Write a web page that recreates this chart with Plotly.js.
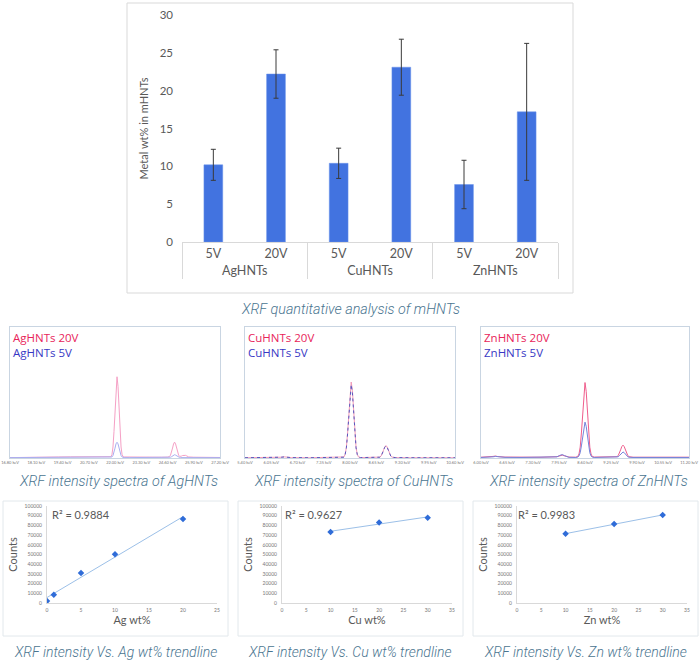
<!DOCTYPE html>
<html>
<head>
<meta charset="utf-8">
<script src="https://cdn.plot.ly/plotly-3.0.1.min.js"></script>
<style>html,body{margin:0;padding:0;background:#fff;}#chart{width:700px;height:661px;}</style>
</head>
<body>
<div id="chart"></div>
<script>
// ---------- DATA ----------
// Top bar chart
const barGroups   = ['AgHNTs','AgHNTs','CuHNTs','CuHNTs','ZnHNTs','ZnHNTs'];
const barVoltages = ['5V','20V','5V','20V','5V','20V'];
const barValues   = [10.2, 22.2, 10.4, 23.1, 7.6, 17.2];
const barErrors   = [2.05, 3.2, 2.0, 3.7, 3.2, 9.05];
const barYTicks   = [0, 5, 10, 15, 20, 25, 30];

// Spectra: Ag
const agEnergy = [16.8,17.4,18.0,18.6,19.2,19.8,20.4,21.0,21.5,21.75,21.8,21.85,21.9,21.95,22.0,22.05,22.1,22.15,22.2,22.25,22.3,22.35,22.4,22.45,22.7,23.2,23.8,24.3,24.6,24.65,24.7,24.75,24.8,24.85,24.9,24.95,25.0,25.05,25.1,25.15,25.2,25.25,25.3,25.35,25.4,25.45,25.5,25.55,25.6,25.65,25.9,26.5,27.2];
const ag20V = [0.3,0.3,0.4,0.5,0.8,0.9,0.8,0.7,0.8,0.8,1.0,2.7,8.4,20.2,37.6,54.7,62.0,54.7,37.6,20.2,8.4,2.7,1.0,0.8,0.7,0.6,0.6,0.6,0.7,0.8,1.1,2.2,4.3,7.6,10.7,12.1,10.7,7.6,4.3,2.2,1.2,1.2,1.5,1.9,2.1,2.2,2.0,1.6,1.1,0.8,0.6,0.5,0.4];
const ag5V  = [0.3,0.3,0.3,0.3,0.3,0.3,0.3,0.3,0.3,0.4,0.4,0.8,1.9,4.2,7.5,10.8,12.0,10.8,7.5,4.2,1.9,0.8,0.4,0.3,0.3,0.3,0.3,0.3,0.3,0.3,0.4,0.6,1.0,1.6,2.2,2.5,2.2,1.6,1.0,0.6,0.4,0.3,0.3,0.4,0.5,0.5,0.5,0.4,0.3,0.3,0.3,0.3,0.3];
const agTickVals = [16.8,18.1,19.4,20.7,22.0,23.3,24.6,25.9,27.2];
const agTickText = ['16.80 keV','18.10 keV','19.40 keV','20.70 keV','22.00 keV','23.30 keV','24.60 keV','25.90 keV','27.20 keV'];

// Spectra: Cu
const cuEnergy = [5.40,5.8,6.2,6.30,6.37,6.44,6.55,7.0,7.5,7.80,7.85,7.88,7.91,7.94,7.97,8.00,8.03,8.06,8.09,8.12,8.15,8.18,8.21,8.26,8.5,8.65,8.71,8.74,8.77,8.80,8.83,8.86,8.89,8.92,8.95,8.98,9.01,9.04,9.07,9.13,9.5,10.0,10.6];
const cu20V = [0.2,0.2,0.3,0.6,0.9,0.6,0.3,0.2,0.3,0.3,0.8,2.8,8.0,19.1,35.4,51.4,58.0,51.4,35.4,19.1,8.0,2.8,0.8,0.3,0.3,0.4,0.4,0.7,1.5,3.3,5.9,8.4,9.5,8.4,5.9,3.3,1.5,0.7,0.4,0.3,0.2,0.2,0.2];
const cu5V  = [0.2,0.2,0.3,0.6,0.8,0.6,0.3,0.2,0.3,0.3,0.6,2.7,7.7,18.4,34.2,49.6,56.0,49.6,34.2,18.4,7.7,2.7,0.8,0.3,0.3,0.4,0.4,0.6,1.4,3.2,5.7,8.2,9.2,8.2,5.7,3.2,1.4,0.6,0.4,0.3,0.2,0.2,0.2];
const cuTickVals = [5.40,6.05,6.70,7.35,8.00,8.65,9.30,9.95,10.60];
const cuTickText = ['5.40 keV','6.05 keV','6.70 keV','7.35 keV','8.00 keV','8.65 keV','9.30 keV','9.95 keV','10.60 keV'];

// Spectra: Zn
const znEnergy = [6.00,6.2,6.30,6.36,6.42,6.6,7.0,7.5,7.9,7.97,8.03,8.09,8.2,8.37,8.42,8.45,8.48,8.51,8.54,8.57,8.60,8.63,8.66,8.69,8.72,8.75,8.78,8.83,9.1,9.37,9.40,9.43,9.46,9.49,9.52,9.55,9.58,9.61,9.64,9.67,9.70,9.73,9.8,10.2,10.6,11.2];
const zn20V = [0.6,0.7,1.2,1.5,1.1,0.7,0.6,0.6,1.0,1.8,2.2,1.6,0.7,0.6,1.2,3.1,8.3,19.1,35.2,50.9,57.6,50.9,35.2,19.1,8.3,3.1,1.2,0.7,0.6,0.7,1.0,1.8,3.6,6.2,8.7,9.8,8.7,6.2,3.6,1.8,1.0,0.7,0.6,0.6,0.6,0.6];
const zn5V  = [0.4,0.5,0.9,1.2,0.9,0.5,0.4,0.4,0.9,2.0,2.6,1.8,0.5,0.4,0.7,1.6,4.0,9.2,16.8,24.2,27.4,24.2,16.8,9.2,4.0,1.6,0.7,0.4,0.4,0.4,0.6,0.9,1.8,2.9,4.1,4.6,4.1,2.9,1.8,0.9,0.6,0.4,0.4,0.4,0.4,0.4];
const znTickVals = [6.00,6.65,7.30,7.95,8.60,9.25,9.90,10.55,11.20];
const znTickText = ['6.00 keV','6.65 keV','7.30 keV','7.95 keV','8.60 keV','9.25 keV','9.90 keV','10.55 keV','11.20 keV'];

// Trendlines
const agWt = [0, 1, 5, 10, 20];
const agCounts = [2000, 8600, 31000, 50300, 86500];
const cuWt = [10, 20, 30];
const cuCounts = [73100, 83100, 87900];
const znWt = [10, 20, 30];
const znCounts = [71400, 81400, 90700];
const r2Labels = ['R\u00b2 = 0.9884', 'R\u00b2 = 0.9627', 'R\u00b2 = 0.9983'];

// Text
const spectraLegends = [['AgHNTs 20V','AgHNTs 5V'],['CuHNTs 20V','CuHNTs 5V'],['ZnHNTs 20V','ZnHNTs 5V']];
const captions = {
  top: 'XRF quantitative analysis of mHNTs',
  spectra: ['XRF intensity spectra of AgHNTs','XRF intensity spectra of CuHNTs','XRF intensity spectra of ZnHNTs'],
  trend: ['XRF intensity Vs. Ag wt% trendline','XRF intensity Vs. Cu wt% trendline','XRF intensity Vs. Zn wt% trendline']
};
const trendXTitles = ['Ag wt%','Cu wt%','Zn wt%'];

// ---------- HELPERS ----------
const W = 700, H = 661;
const px = v => v / W;
const py = v => 1 - v / H;
function fitLine(xs, ys) {
  const n = xs.length;
  const mx = xs.reduce((a,b)=>a+b,0)/n, my = ys.reduce((a,b)=>a+b,0)/n;
  let sxy = 0, sxx = 0;
  for (let i=0;i<n;i++){ sxy += (xs[i]-mx)*(ys[i]-my); sxx += (xs[i]-mx)**2; }
  const m = sxy/sxx, b = my - m*mx;
  const x0 = Math.min(...xs), x1 = Math.max(...xs);
  return {x:[x0,x1], y:[m*x0+b, m*x1+b]};
}

const gray = '#595959';
const capFont = {family:'Roboto, sans-serif', size:14.3, color:'#4a7590', style:'italic', weight:300};
const traces = [];

// Top bars
traces.push({
  type:'bar', x:[barGroups, barVoltages], y:barValues,
  marker:{color:'#4273e0', line:{color:'#6a93ea', width:0.5}},
  error_y:{type:'data', array:barErrors, visible:true, color:'#3a3a3a', thickness:1, width:2.5},
  xaxis:'x', yaxis:'y', showlegend:false, hoverinfo:'skip'
});

// Spectra
const spec = [
  {e:agEnergy, a:ag20V, b:ag5V, pc:'#f5a0c5', bc:'#a9aef0', bd:'solid'},
  {e:cuEnergy, a:cu20V, b:cu5V, pc:'#f29ab8', bc:'#5558c0', bd:'dot'},
  {e:znEnergy, a:zn20V, b:zn5V, pc:'#ef5d8c', bc:'#7583da', bd:'solid'}
];
spec.forEach((s,i)=>{
  const n = i+2;
  traces.push({type:'scatter', mode:'lines', x:s.e, y:s.a, line:{color:s.pc, width:1}, xaxis:'x'+n, yaxis:'y'+n, showlegend:false, hoverinfo:'skip'});
  traces.push({type:'scatter', mode:'lines', x:s.e, y:s.b, line:{color:s.bc, width:1, dash:s.bd}, xaxis:'x'+n, yaxis:'y'+n, showlegend:false, hoverinfo:'skip'});
});

// Trendlines
const tr = [[agWt,agCounts],[cuWt,cuCounts],[znWt,znCounts]];
tr.forEach((d,i)=>{
  const n = i+5;
  const f = fitLine(d[0], d[1]);
  traces.push({type:'scatter', mode:'lines', x:f.x, y:f.y, line:{color:'#9cc0e8', width:1}, xaxis:'x'+n, yaxis:'y'+n, showlegend:false, hoverinfo:'skip'});
  traces.push({type:'scatter', mode:'markers', x:d[0], y:d[1], marker:{color:'#2f6cd8', size:5, symbol:'diamond'}, xaxis:'x'+n, yaxis:'y'+n, showlegend:false, hoverinfo:'skip'});
});

const layout = {
  width:W, height:H, margin:{l:0,r:0,t:0,b:0}, paper_bgcolor:'#fff', plot_bgcolor:'rgba(0,0,0,0)',
  bargap:0.7, showlegend:false,
  font:{family:'Lato, "Open Sans", sans-serif', color:gray},
  xaxis:{type:'multicategory', domain:[px(182),px(558)], anchor:'y', showline:true, linecolor:'#d9d9d9', linewidth:1,
         showdividers:true, dividercolor:'#d9d9d9', dividerwidth:1, ticks:'outside', ticklen:9, tickcolor:'rgba(0,0,0,0)',
         tickfont:{size:12.5, color:gray}, showgrid:false, zeroline:false},
  yaxis:{domain:[py(242),py(15)], anchor:'x', range:[0,30], tickvals:barYTicks, showgrid:false, zeroline:false, showline:false,
         tickfont:{size:11.5, color:gray}, ticklabelstandoff:8,
         title:{text:'Metal wt% in mHNTs', font:{size:11, color:gray}, standoff:8}},
  shapes:[], annotations:[]
};

// Spectra axes
const specX = [[10,220],[245,455],[481,689]];
const specTicks = [[agTickVals,agTickText],[cuTickVals,cuTickText],[znTickVals,znTickText]];
specX.forEach((xr,i)=>{
  const n = i+2;
  layout['xaxis'+n] = {domain:[px(xr[0]),px(xr[1])], anchor:'y'+n, range:[specTicks[i][0][0], specTicks[i][0][8]],
    tickvals:specTicks[i][0], ticktext:specTicks[i][1], tickfont:{size:4, color:'#777'}, ticks:'',
    showline:true, mirror:true, linecolor:'#c9d5e2', linewidth:1, showgrid:false, zeroline:false};
  layout['yaxis'+n] = {domain:[py(458),py(327)], anchor:'x'+n, range:[0,100], showticklabels:false, ticks:'',
    showline:true, mirror:true, linecolor:'#c9d5e2', linewidth:1, showgrid:false, zeroline:false};
  layout.annotations.push({xref:'paper', yref:'paper', x:px(xr[0]+1), y:py(328), xanchor:'left', yanchor:'top', showarrow:false, align:'left',
    text:'<span style="color:#e8245a">'+spectraLegends[i][0]+'</span><br><span style="color:#3838c4">'+spectraLegends[i][1]+'</span>',
    font:{family:'"Open Sans", sans-serif', size:11.5, color:'#e8245a'}});
  layout.annotations.push({xref:'paper', yref:'paper', x:px((xr[0]+xr[1])/2+3), y:py(481), xanchor:'center', yanchor:'middle', showarrow:false,
    text:captions.spectra[i], font:capFont});
});

// Trendline axes
const trX = [[47,217,25],[282,452,35],[517,687,35]];
const trBox = [[3,228],[238,463],[473,698]];
const r2X = [50,283,516];
const capX = [115,350,585];
trX.forEach((t,i)=>{
  const n = i+5;
  layout['xaxis'+n] = {domain:[px(t[0]),px(t[1])], anchor:'y'+n, range:[0,t[2]], dtick:5, tick0:0,
    tickfont:{size:5, color:'#777'}, ticks:'', ticklabelstandoff:2, showline:true, linecolor:'#d9d9d9', linewidth:1, showgrid:false, zeroline:false,
    title:{text:trendXTitles[i], font:{size:11, color:gray}, standoff:0}};
  layout['yaxis'+n] = {domain:[py(603),py(506)], anchor:'x'+n, range:[0,100000], dtick:10000, tick0:0, tickformat:'d',
    tickfont:{size:5, color:'#777'}, ticks:'', ticklabelstandoff:3, showline:true, linecolor:'#d9d9d9', linewidth:1, showgrid:false, zeroline:false,
    title:{text:'Counts', font:{size:11, color:gray}, standoff:4}};
  layout.shapes.push({type:'rect', xref:'paper', yref:'paper', x0:px(trBox[i][0]), x1:px(trBox[i][1]), y0:py(636), y1:py(501),
    line:{color:'#e2e8ec', width:1}});
  layout.annotations.push({xref:'paper', yref:'paper', x:px(r2X[i]), y:py(514), xanchor:'left', yanchor:'middle', showarrow:false,
    text:r2Labels[i], font:{size:11, color:gray}});
  layout.annotations.push({xref:'paper', yref:'paper', x:px(capX[i]), y:py(652), xanchor:'center', yanchor:'middle', showarrow:false,
    text:captions.trend[i], font:Object.assign({}, capFont, {size:14})});
});

// Top chart frame and caption
layout.shapes.push({type:'rect', xref:'paper', yref:'paper', x0:px(127), x1:px(573), y0:py(293), y1:py(3), line:{color:'#d9d9d9', width:1}});
layout.annotations.push({xref:'paper', yref:'paper', x:px(350), y:py(309), xanchor:'center', yanchor:'middle', showarrow:false,
  text:captions.top, font:capFont});

Plotly.newPlot('chart', traces, layout, {staticPlot:true, displayModeBar:false});
</script>
</body>
</html>
